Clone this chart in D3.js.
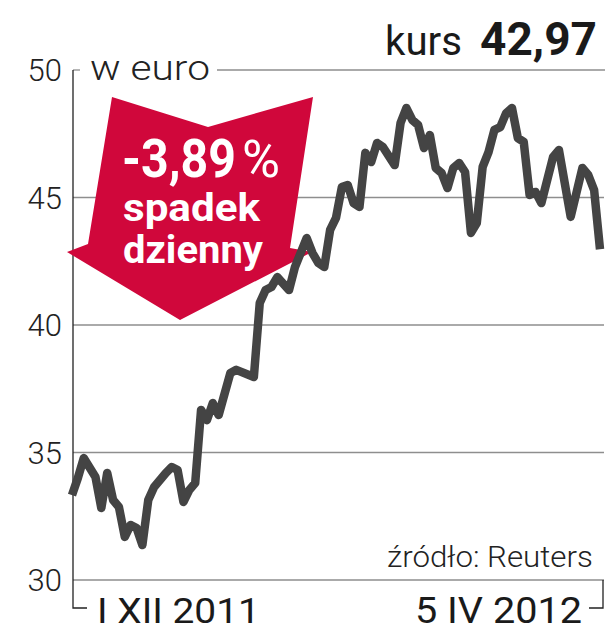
<!DOCTYPE html>
<html><head><meta charset="utf-8">
<script src="https://cdn.jsdelivr.net/npm/d3@7"></script>
<style>body{margin:0;background:#fff}svg{display:block}</style>
</head><body><svg id="c" width="605" height="640"></svg>
<script>
// trading-day index (0 = 1 XII 2011, 90 = 5 IV 2012)
const days = [0,1,2,4,5,6,7,8,9,10,11,12,13,14,16,17,18,19,20,21,22,23,24,25,27,28,31,32,33,34,35,37,38,40,41,42,43,44,45,46,47,48,49,50,51,52,53,55,56,57,58,59,60,61,62,63,64,65,66,67,68,69,70,71,72,73,74,75,76,77,78,79,80,82,83,85,87,88,89,90];
const prices = [33.33,34.0,34.78,34.04,32.82,34.2,33.14,32.86,31.69,32.16,32.04,31.37,33.14,33.65,34.2,34.43,34.31,33.06,33.53,33.8,36.67,36.27,36.94,36.47,38.12,38.24,37.96,40.86,41.37,41.49,41.88,41.37,42.27,43.41,42.82,42.43,42.27,43.73,44.2,45.41,45.49,44.78,44.63,46.75,46.39,47.14,46.98,46.27,47.92,48.51,48.04,47.84,46.94,47.45,46.16,45.96,45.37,46.16,46.35,46.0,43.61,44.0,46.2,46.78,47.65,47.76,48.31,48.51,47.33,47.18,45.1,45.22,44.78,46.59,46.86,44.24,46.16,45.88,45.29,42.97];
const yTicks = [30,35,40,45,50];
const xLabels = ["I XII 2011","5 IV 2012"];
const unitLabel = "w euro";
const lastLabel = "kurs";
const lastValue = "42,97";
const changeText = "-3,89";
const changeUnit = "%";
const changeLines = ["spadek","dzienny"];
const sourceText = "źródło: Reuters";

const svg = d3.select("#c");
const x = d3.scaleLinear().domain([0,90]).range([72,600]);
const y = d3.scaleLinear().domain([30,50]).range([580,70]);
const FONT = "Roboto, 'Liberation Sans', sans-serif";

// text fitted horizontally to a target width via a transform
function fitText(str, tx, ty, w, size, weight, fill) {
  const t = svg.append("text").attr("font-family",FONT).attr("font-weight",weight)
    .attr("font-size",size).attr("fill",fill).text(str);
  const nat = t.node().getComputedTextLength();
  t.attr("transform",`translate(${tx},${ty}) scale(${w/nat},1)`);
  return t;
}

// gridlines
const grid = svg.append("g");
yTicks.forEach(t => {
  if (t === 50) {
    grid.append("line").attr("x1",73).attr("x2",80).attr("y1",y(t)).attr("y2",y(t));
    grid.append("line").attr("x1",217).attr("x2",605).attr("y1",y(t)).attr("y2",y(t));
  } else {
    grid.append("line").attr("x1",73).attr("x2",604).attr("y1",y(t)).attr("y2",y(t));
  }
});
grid.selectAll("line").attr("stroke","#8e8e8e").attr("stroke-width",1.3);

// axis brackets
svg.append("path").attr("d",`M${73},${y(50)}V608H87`).attr("fill","none").attr("stroke","#222").attr("stroke-width",1.3);
svg.append("path").attr("d",`M603,${y(30)}V608H589`).attr("fill","none").attr("stroke","#222").attr("stroke-width",1.3);

// y labels
svg.append("g").selectAll("text").data(yTicks).join("text")
  .attr("x",62).attr("y",d=>y(d)+11).attr("text-anchor","end")
  .attr("font-family",FONT).attr("font-weight",300).attr("font-size",31).attr("fill","#222")
  .text(d=>d);

// unit label + header
fitText(unitLabel, 90, 80, 120, 35, 300, "#222");
fitText(lastLabel, 385, 55, 77, 40, 400, "#1a1a1a");
fitText(lastValue, 480, 55, 117, 46, 700, "#1a1a1a");

// red arrow
const arrowPts = [[112,97],[208,127],[313,97],[290,248],[312,252],[180,320],[67,252],[88,244]];
svg.append("polygon").attr("points",arrowPts.map(p=>p.join(",")).join(" ")).attr("fill","#d0073b");

fitText(changeText, 122, 177, 114, 54, 700, "#fff");
fitText(changeUnit, 242, 177, 38, 52, 400, "#fff");
fitText(changeLines[0], 123, 221, 137, 38, 700, "#fff");
fitText(changeLines[1], 123, 263, 140, 38, 700, "#fff");

// price line
const line = d3.line().x((d,i)=>x(days[i])).y(d=>y(d));
svg.append("path").datum(prices).attr("d",line).attr("fill","none")
  .attr("stroke","#444444").attr("stroke-width",8.5).attr("stroke-linejoin","round").attr("stroke-linecap","butt");

// source + x labels
fitText(sourceText, 387, 567, 206, 29, 300, "#222");
fitText(xLabels[0], 97, 623, 163, 36, 400, "#1a1a1a");
fitText(xLabels[1], 415, 623, 167, 36, 400, "#1a1a1a");
</script>
</body></html>
